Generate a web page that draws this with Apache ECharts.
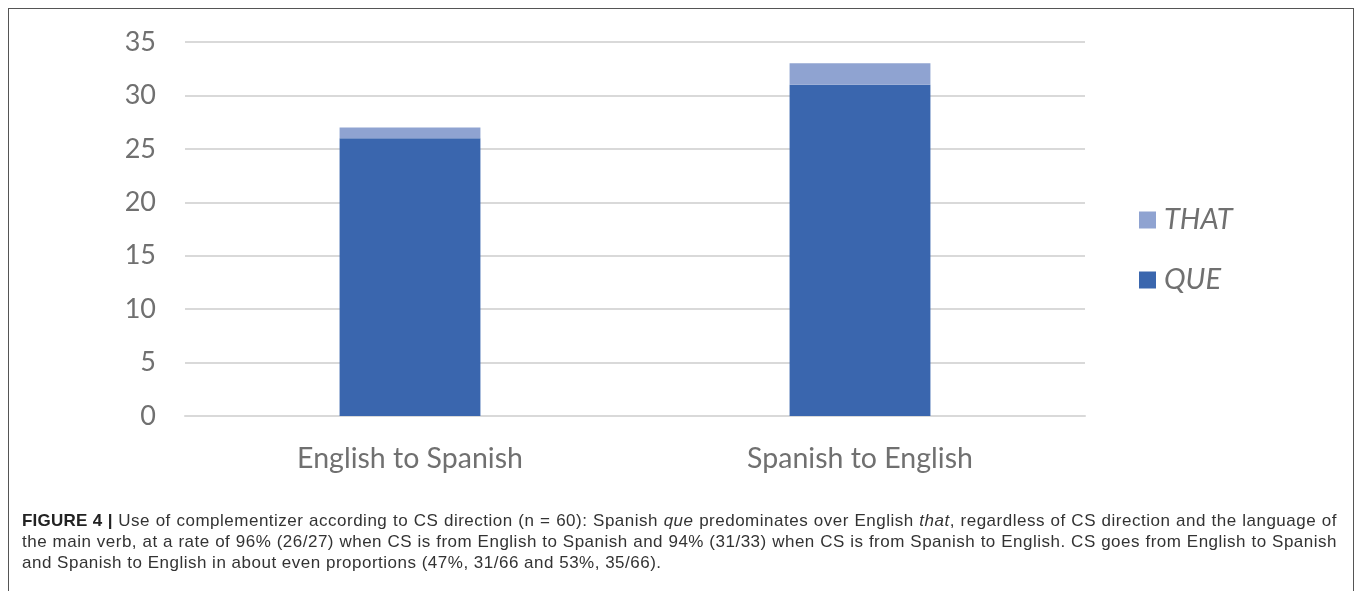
<!DOCTYPE html>
<html>
<head>
<meta charset="utf-8">
<script src="https://cdn.jsdelivr.net/npm/echarts@6/dist/echarts.min.js"></script>
<style>
html,body{margin:0;padding:0;background:#fff;}
#wrap{position:relative;width:1358px;height:591px;overflow:hidden;}
#frame{position:absolute;left:8px;top:8px;width:1346px;height:600px;border:1.5px solid #555;border-bottom:none;box-sizing:border-box;}
#chart{position:absolute;left:0;top:0;width:1358px;height:591px;}
#cap{position:absolute;left:22px;top:510px;width:1315px;font-family:"Liberation Sans",Arial,sans-serif;font-size:17px;letter-spacing:0.5px;line-height:21px;color:#333;}
#cap div{white-space:nowrap;}
#cap .j{text-align:justify;text-align-last:justify;white-space:normal;}
#cap b{font-weight:bold;color:#222;letter-spacing:0.2px;}
</style>
</head>
<body>
<div id="wrap">
<div id="chart"></div>
<div id="frame"></div>
<div id="cap">
<div class="j"><b>FIGURE 4 |</b> Use of complementizer according to CS direction (n = 60): Spanish <i>que</i> predominates over English <i>that</i>, regardless of CS direction and the language of</div>
<div class="j">the main verb, at a rate of 96% (26/27) when CS is from English to Spanish and 94% (31/33) when CS is from Spanish to English. CS goes from English to Spanish</div>
<div>and Spanish to English in about even proportions (47%, 31/66 and 53%, 35/66).</div>
</div>
</div>
<script>
const categories = ['English to Spanish', 'Spanish to English'];
const queValues = [26, 31];
const thatValues = [1, 2];
const yTicks = [0, 5, 10, 15, 20, 25, 30, 35];

const chart = echarts.init(document.getElementById('chart'), null, {renderer: 'canvas'});
const font = 'Lato, "Open Sans", sans-serif';
chart.setOption({
  animation: false,
  grid: {left: 185, right: 273, top: 42, bottom: 175},
  legend: {
    data: ['THAT', 'QUE'],
    orient: 'vertical',
    left: 1134,
    top: 199,
    itemWidth: 17,
    itemHeight: 17,
    itemGap: 28,
    icon: 'rect',
    textStyle: {fontFamily: font, fontSize: 29, fontStyle: 'italic', color: '#707070', lineHeight: 32, padding: [0, 0, 0, 3]},
    selectedMode: false
  },
  xAxis: {
    type: 'category',
    data: categories,
    axisLine: {show: true, lineStyle: {color: '#d9d9d9', width: 2}},
    axisTick: {show: false},
    axisLabel: {fontFamily: font, fontSize: 28.5, color: '#707070', margin: 28}
  },
  yAxis: {
    type: 'value',
    min: yTicks[0],
    max: yTicks[yTicks.length - 1],
    interval: 5,
    axisLine: {show: false},
    axisTick: {show: false},
    splitLine: {lineStyle: {color: '#d9d9d9', width: 2}},
    axisLabel: {fontFamily: font, fontSize: 27, color: '#707070', margin: 29}
  },
  series: [
    {name: 'QUE', type: 'bar', stack: 'a', data: queValues, barWidth: '31.3%', itemStyle: {color: '#3a66ae'}},
    {name: 'THAT', type: 'bar', stack: 'a', data: thatValues, barWidth: '31.3%', itemStyle: {color: '#8fa3d1'}}
  ]
});
</script>
</body>
</html>
